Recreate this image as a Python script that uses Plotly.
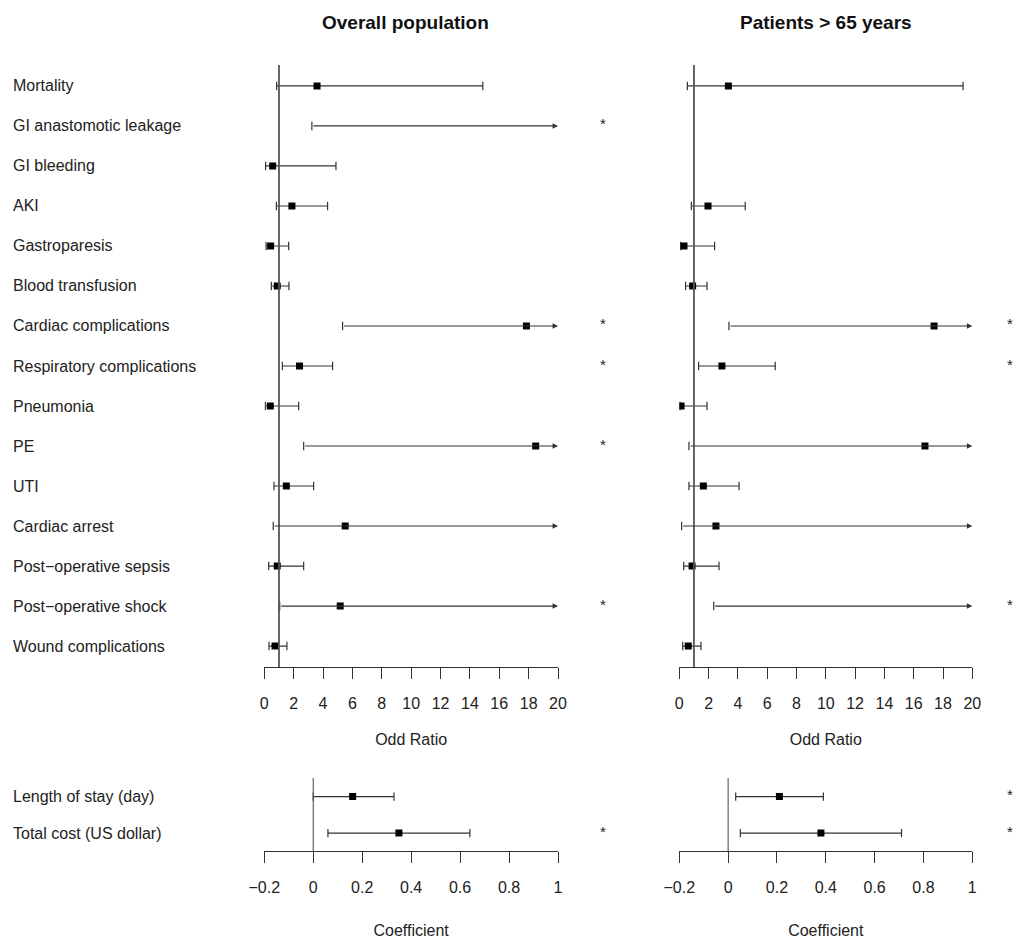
import math
import plotly.graph_objects as go

INF = math.inf  # value lies beyond the right end of the axis

# ---------------- data ----------------
outcomes = ["Mortality", "GI anastomotic leakage", "GI bleeding", "AKI", "Gastroparesis",
            "Blood transfusion", "Cardiac complications", "Respiratory complications",
            "Pneumonia", "PE", "UTI", "Cardiac arrest", "Post\u2212operative sepsis",
            "Post\u2212operative shock", "Wound complications"]

or_all = [3.59, INF, 0.57, 1.88, 0.43, 0.88, 17.85, 2.40, 0.41, 18.48, 1.50, 5.51, 0.88, 5.17, 0.73]
lo_all = [0.84, 3.24, 0.09, 0.82, 0.12, 0.48, 5.33, 1.23, 0.07, 2.68, 0.66, 0.61, 0.30, 1.05, 0.32]
hi_all = [14.88, INF, 4.88, 4.31, 1.66, 1.68, INF, 4.65, 2.34, INF, 3.36, INF, 2.68, INF, 1.54]
sig_all = [0, 1, 0, 0, 0, 0, 1, 1, 0, 1, 0, 0, 0, 1, 0]

or_65 = [3.35, None, None, 1.96, 0.32, 0.91, 17.39, 2.91, 0.12, 16.77, 1.64, 2.50, 0.87, INF, 0.61]
lo_65 = [0.55, None, None, 0.82, 0.10, 0.43, 3.39, 1.32, 0.05, 0.66, 0.66, 0.16, 0.30, 2.35, 0.23]
hi_65 = [19.37, None, None, 4.50, 2.41, 1.89, INF, 6.55, 1.89, INF, 4.08, INF, 2.71, INF, 1.48]
sig_65 = [0, 0, 0, 0, 0, 0, 1, 1, 0, 0, 0, 0, 0, 1, 0]

cost_outcomes = ["Length of stay (day)", "Total cost (US dollar)"]
coef_all = [0.161, 0.35]
clo_all = [0.00, 0.06]
chi_all = [0.33, 0.64]
csig_all = [0, 1]

coef_65 = [0.21, 0.38]
clo_65 = [0.031, 0.05]
chi_65 = [0.39, 0.71]
csig_65 = [1, 1]

or_ticks = list(range(0, 21, 2))
coef_ticks = [-0.2, 0, 0.2, 0.4, 0.6, 0.8, 1]

# ---------------- style ----------------
W, H = 1017, 939
FONT = "Liberation Sans, Arial, sans-serif"
TXT = "#222222"
LINE = "#333333"
OR_MAX = 20
COEF_RANGE = [-0.2, 1]

def py(p):
    return 1 - p / H

xL = [264.3 / W, 558.0 / W]
xR = [679.3 / W, 972.3 / W]
yTop = [py(667), py(65)]
yBot = [py(851), py(778)]

fig = go.Figure()
annotations = []
shapes = []


def panel(xa, ya, est, lo, hi, sig, xmax, ref, ref_width, star_dx):
    xs, ys = [], []
    cap_x, cap_y = [], []
    pt_x, pt_y = [], []
    for i in range(len(lo)):
        if lo[i] is None:
            continue
        if hi[i] == INF:
            annotations.append(dict(
                x=xmax, y=i, ax=lo[i], ay=i, xref=xa, yref=ya, axref=xa, ayref=ya,
                text="", showarrow=True, arrowhead=2, arrowsize=0.9, arrowwidth=1.2,
                arrowcolor=LINE, standoff=0, startstandoff=0))
            cap_x.append(lo[i]); cap_y.append(i)
        else:
            xs += [lo[i], hi[i], None]
            ys += [i, i, None]
            cap_x += [lo[i], hi[i]]; cap_y += [i, i]
        if est[i] is not None and est[i] != INF:
            pt_x.append(est[i]); pt_y.append(i)
        if sig[i]:
            annotations.append(dict(
                x=1 + star_dx, y=i, xref=xa + " domain", yref=ya, text="*",
                showarrow=False, font=dict(size=15, color=TXT, family=FONT),
                xanchor="center", yanchor="middle", yshift=2))
    fig.add_trace(go.Scatter(x=xs, y=ys, mode="lines", xaxis=xa, yaxis=ya,
                             line=dict(color=LINE, width=1.2), hoverinfo="skip",
                             showlegend=False))
    fig.add_trace(go.Scatter(x=cap_x, y=cap_y, mode="markers", xaxis=xa, yaxis=ya,
                             marker=dict(symbol="line-ns", size=6,
                                         line=dict(color=LINE, width=1.2)),
                             hoverinfo="skip", showlegend=False))
    fig.add_trace(go.Scatter(x=pt_x, y=pt_y, mode="markers", xaxis=xa, yaxis=ya,
                             marker=dict(symbol="square", size=7, color="black"),
                             showlegend=False))
    shapes.append(dict(type="line", xref=xa, yref=ya + " domain", x0=ref, x1=ref,
                       y0=0, y1=1, line=dict(color="#555555", width=ref_width)))


panel("x", "y", or_all, lo_all, hi_all, sig_all, OR_MAX, 1, 1.8, 45 / 294)
panel("x2", "y2", or_65, lo_65, hi_65, sig_65, OR_MAX, 1, 1.8, 38 / 293)
panel("x3", "y3", coef_all, clo_all, chi_all, csig_all, COEF_RANGE[1], 0, 1.1, 45 / 294)
panel("x4", "y4", coef_65, clo_65, chi_65, csig_65, COEF_RANGE[1], 0, 1.1, 38 / 293)

# row labels
for i, lab in enumerate(outcomes):
    annotations.append(dict(x=11 / W, y=i, xref="paper", yref="y", text=lab,
                            showarrow=False, xanchor="left", yanchor="middle",
                            font=dict(size=16, color=TXT, family=FONT)))
for i, lab in enumerate(cost_outcomes):
    annotations.append(dict(x=11 / W, y=i, xref="paper", yref="y3", text=lab,
                            showarrow=False, xanchor="left", yanchor="middle",
                            font=dict(size=16, color=TXT, family=FONT)))

# panel titles
annotations.append(dict(x=405 / W, y=py(22), xref="paper", yref="paper",
                        text="<b>Overall population</b>", showarrow=False,
                        xanchor="center", yanchor="middle",
                        font=dict(size=19, color="#111111", family=FONT)))
annotations.append(dict(x=826 / W, y=py(22), xref="paper", yref="paper",
                        text="<b>Patients &gt; 65 years</b>", showarrow=False,
                        xanchor="center", yanchor="middle",
                        font=dict(size=19, color="#111111", family=FONT)))

xaxis_common = dict(showline=True, linecolor=LINE, linewidth=1.2, ticks="outside",
                    ticklen=11, tickwidth=1.2, tickcolor=LINE, showgrid=False,
                    zeroline=False, tickfont=dict(size=16, color=TXT, family=FONT),
                    ticklabelstandoff=11, automargin=False,
                    title_font=dict(size=16, color=TXT, family=FONT))
yaxis_common = dict(visible=False, showgrid=False, zeroline=False, automargin=False)

fig.update_layout(
    template="none",
    autosize=False,
    width=W, height=H, margin=dict(l=0, r=0, t=0, b=0, pad=0),
    paper_bgcolor="white", plot_bgcolor="white",
    font=dict(family=FONT, color=TXT),
    xaxis=dict(domain=xL, range=[0, OR_MAX], tickvals=or_ticks, anchor="y",
               title_text="Odd Ratio", title_standoff=22, **xaxis_common),
    xaxis2=dict(domain=xR, range=[0, OR_MAX], tickvals=or_ticks, anchor="y2",
                title_text="Odd Ratio", title_standoff=22, **xaxis_common),
    xaxis3=dict(domain=xL, range=COEF_RANGE, tickvals=coef_ticks, anchor="y3",
                title_text="Coefficient", title_standoff=31, **xaxis_common),
    xaxis4=dict(domain=xR, range=COEF_RANGE, tickvals=coef_ticks, anchor="y4",
                title_text="Coefficient", title_standoff=31, **xaxis_common),
    yaxis=dict(domain=yTop, range=[14.524, -0.524], anchor="x", **yaxis_common),
    yaxis2=dict(domain=yTop, range=[14.524, -0.524], anchor="x2", **yaxis_common),
    yaxis3=dict(domain=yBot, range=[1.49, -0.51], anchor="x3", **yaxis_common),
    yaxis4=dict(domain=yBot, range=[1.49, -0.51], anchor="x4", **yaxis_common),
    annotations=annotations, shapes=shapes,
)

fig.write_html("out.html", config={"responsive": False, "displayModeBar": False},
               post_script="document.body.style.margin='0';document.body.style.overflow='hidden';")
